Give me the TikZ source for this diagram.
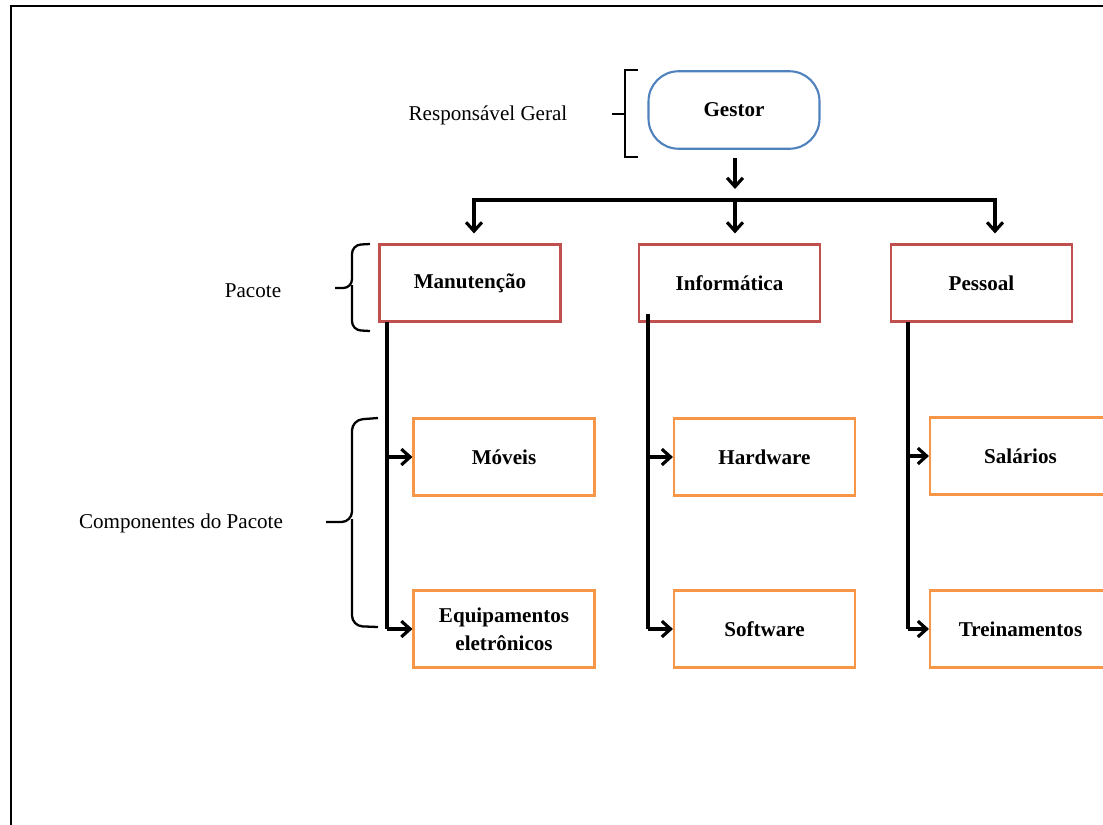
\documentclass[tikz,border=0pt]{standalone}
\usepackage{fontspec}
\setmainfont{Liberation Serif}
\usetikzlibrary{arrows.meta}

\definecolor{gestorblue}{RGB}{79,129,189}
\definecolor{pacred}{RGB}{192,80,77}
\definecolor{comporange}{RGB}{247,150,70}

\newcommand{\boxfont}{\fontsize{12}{14}\selectfont\bfseries}

\tikzset{
    gestorbox/.style={draw=gestorblue, line width=1.2pt, rounded corners=0.6cm,
        minimum width=3.42cm, minimum height=1.55cm, font=\boxfont},
    pacbox/.style={draw=pacred, line width=1.2pt,
        minimum width=3.62cm, minimum height=1.54cm, font=\boxfont},
    compbox/.style={draw=comporange, line width=1.2pt,
        minimum width=3.62cm, minimum height=1.54cm, font=\boxfont, align=center},
    wire/.style={line width=1.8pt},
    arr/.style={line width=1.8pt, -{Straight Barb[length=5pt,width=9pt]}},
    brk/.style={line width=1.3pt}
}

\begin{document}
\begin{tikzpicture}[x=0.02cm, y=-0.02cm, font=\fontsize{12}{14}\selectfont]
    \useasboundingbox (0,0) rectangle (1103,825);
    % the frame
    \draw[line width=1.5pt] (11,840) -- (11,6) -- (1120,6);

    % the boxes
    \node[gestorbox] (gestor) at (734,110) {Gestor};
    \node[pacbox] (man) at (470,283) {Manutenção};
    \node[pacbox] (inf) at (729.5,283) {Informática};
    \node[pacbox] (pes) at (981.5,283) {Pessoal};
    \node[compbox] (mov) at (504,457) {Móveis};
    \node[compbox] (equip) at (504,629) {Equipamentos\\[2pt]eletrônicos};
    \node[compbox] (hard) at (764.5,457) {Hardware};
    \node[compbox] (soft) at (764.5,629) {Software};
    \node[compbox] (sal) at (1020.5,456) {Salários};
    \node[compbox] (trein) at (1020.5,629) {Treinamentos};

    % the texts beside the brackets
    \node (resp) at (488,115) {Responsável Geral};
    \node (pacote) at (253,291) {Pacote};
    \node (comp) at (181,523) {Componentes do Pacote};

    % the brackets
    \draw[brk] (638,70) -- (625,70) -- (625,157) -- (638,157);
    \draw[brk] (612,114) -- (625,114);
    \draw[brk, rounded corners=5] (370,244) -- (352,245) -- (352,288) -- (335,288);
    \draw[brk, rounded corners=5] (352,285) -- (352,330) -- (370,331);
    \draw[brk, rounded corners=6] (378,418) -- (352,420) -- (352,522) -- (326,522);
    \draw[brk, rounded corners=6] (352,519) -- (352,626) -- (378,627);

    % the points of the bus (here I just use coordinates to hang the arrows on)
    \coordinate (b1) at (474,200);
    \coordinate (b2) at (735,200);
    \coordinate (b3) at (995,200);

    % draw the arrows from the gestor to the packages
    \draw[arr, shorten <=0.16cm, shorten >=0.22cm] (gestor.south -| b2) -- (b2);
    \draw[wire] ([xshift=-0.9pt]b1) -- ([xshift=0.9pt]b3);
    \draw[arr, shorten >=0.2cm] (b1) -- (b1 |- man.north);
    \draw[arr, shorten >=0.2cm] (b2) -- (b2 |- inf.north);
    \draw[arr, shorten >=0.2cm] (b3) -- (b3 |- pes.north);

    % the spines under the packages
    \coordinate (s1) at (387,322);
    \coordinate (s2) at (648,314);
    \coordinate (s3) at (908,322);
    \draw[wire] (s1) -- (s1 |- equip.west);
    \draw[wire] (s2) -- (s2 |- soft.west);
    \draw[wire] (s3) -- (s3 |- trein.west);

    % draw the arrows to the components
    \draw[arr] (s1 |- mov.west) -- (mov.west);
    \draw[arr] (s1 |- equip.west) -- (equip.west);
    \draw[arr] (s2 |- hard.west) -- (hard.west);
    \draw[arr] (s2 |- soft.west) -- (soft.west);
    \draw[arr] (s3 |- sal.west) -- (sal.west);
    \draw[arr] (s3 |- trein.west) -- (trein.west);
\end{tikzpicture}
\end{document}
